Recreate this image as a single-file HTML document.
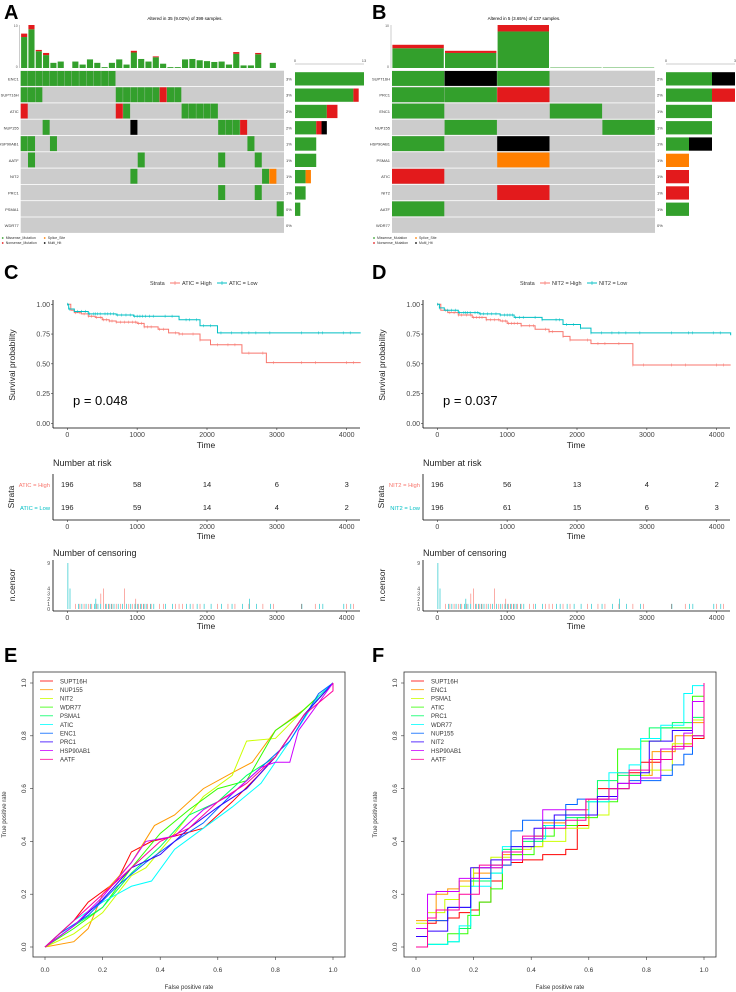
<!DOCTYPE html>
<html><head><meta charset="utf-8">
<style>
html,body{margin:0;padding:0;background:#fff;}
svg{display:block;font-family:"Liberation Sans",sans-serif;}
</style></head>
<body>
<svg id="fig" width="736" height="992" viewBox="0 0 736 992" xmlns="http://www.w3.org/2000/svg">
<text x="4" y="19" font-size="20" font-weight="bold">A</text>
<text x="372" y="19" font-size="20" font-weight="bold">B</text>
<text x="4" y="279" font-size="20" font-weight="bold">C</text>
<text x="372" y="279" font-size="20" font-weight="bold">D</text>
<text x="4" y="662" font-size="20" font-weight="bold">E</text>
<text x="372" y="662" font-size="20" font-weight="bold">F</text>
<text x="185" y="20" font-size="4.5" text-anchor="middle">Altered in 35 (9.02%) of 399 samples.</text>
<text x="524" y="20" font-size="4.5" text-anchor="middle">Altered in 5 (3.65%) of 137 samples.</text>
<g id="root"></g>
</svg>
<script>
// ---------- Oncoplot data ----------
const genesA = ["ENC1","SUPT16H","ATIC","NUP155","HSP90AB1","AATF","NIT2","PRC1","PSMA1","WDR77"];
const pctA = ["3%","3%","2%","2%","1%","1%","1%","1%","0%","0%"];
const cellsA = [
 [[0,12,"g"]],
 [[0,2,"g"],[13,18,"g"],[19,19,"r"],[20,21,"g"]],
 [[0,0,"r"],[13,13,"r"],[14,14,"g"],[22,26,"g"]],
 [[3,3,"g"],[15,15,"b"],[27,29,"g"],[30,30,"r"]],
 [[0,1,"g"],[4,4,"g"],[31,31,"g"]],
 [[1,1,"g"],[16,16,"g"],[27,27,"g"],[32,32,"g"]],
 [[15,15,"g"],[33,33,"g"],[34,34,"o"]],
 [[27,27,"g"],[32,32,"g"]],
 [[35,35,"g"]],
 []
];
const tmbGreenA = [7.2,9,3.9,3,1.2,1.5,0,1.5,0.8,2,1.2,0.2,1.2,2,0.8,3.6,2.1,1.5,2.5,1,0.2,0.2,2,2.1,1.8,1.6,1.4,1.5,0.8,3.3,0.6,0.6,3.2,0,1.2,0];
const tmbRedA   = [0.8,1,0.3,0.5,0,0,0,0,0,0,0,0,0,0,0,0.4,0,0,0.2,0,0,0,0,0,0,0,0,0,0,0.4,0,0,0.3,0,0,0];
const countsA = [[13,0,0,0],[11,1,0,0],[6,2,0,0],[4,1,1,0],[4,0,0,0],[4,0,0,0],[2,0,0,1],[2,0,0,0],[1,0,0,0],[0,0,0,0]];

const genesB = ["SUPT16H","PRC1","ENC1","NUP155","HSP90AB1","PSMA1","ATIC","NIT2","AATF","WDR77"];
const pctB = ["2%","2%","1%","1%","1%","1%","1%","1%","1%","0%"];
const cellsB = [
 [[0,0,"g"],[1,1,"b"],[2,2,"g"]],
 [[0,1,"g"],[2,2,"r"]],
 [[0,0,"g"],[3,3,"g"]],
 [[1,1,"g"],[4,4,"g"]],
 [[0,0,"g"],[2,2,"b"]],
 [[2,2,"o"]],
 [[0,0,"r"]],
 [[2,2,"r"]],
 [[0,0,"g"]],
 []
];
const tmbGreenB = [4.6,3.5,8.5,0.1,0.1];
const tmbRedB   = [0.8,0.5,1.5,0,0];
const countsB = [[2,0,1,0],[2,1,0,0],[2,0,0,0],[2,0,0,0],[1,0,1,0],[0,0,0,1],[0,1,0,0],[0,1,0,0],[1,0,0,0],[0,0,0,0]];

// ---------- KM data ----------
const timeTicks = [0,1000,2000,3000,4000];
const survTicks = [0,0.25,0.5,0.75,1];
const kmC_highT = [0,50,100,200,300,400,500,600,700,1000,1100,1300,1450,1600,1900,2050,2500,2850,4200];
const kmC_highS = [1,0.95,0.93,0.92,0.9,0.89,0.87,0.86,0.85,0.84,0.81,0.79,0.76,0.75,0.70,0.66,0.59,0.51,0.51];
const kmC_lowT = [0,20,100,300,700,950,1600,1900,2150,4200];
const kmC_lowS = [1,0.96,0.94,0.92,0.91,0.90,0.87,0.82,0.76,0.76];
const kmD_highT = [0,50,150,300,500,700,900,1000,1200,1400,1600,1800,1900,2200,2800,4200];
const kmD_highS = [1,0.95,0.93,0.91,0.89,0.87,0.86,0.84,0.82,0.79,0.77,0.73,0.70,0.67,0.49,0.49];
const kmD_lowT = [0,30,100,300,600,900,1100,1500,1800,2050,2200,4200];
const kmD_lowS = [1,0.97,0.95,0.93,0.92,0.91,0.89,0.87,0.83,0.80,0.76,0.74];
const riskC_high = [196,58,14,6,3];
const riskC_low = [196,59,14,4,2];
const riskD_high = [196,56,13,4,2];
const riskD_low = [196,61,15,6,3];
const censHighT = [120,180,240,300,350,420,480,520,560,600,640,700,760,820,880,930,980,1020,1060,1100,1150,1200,1320,1380,1550,1600,1650,1800,1900,2150,2300,2400,2600,2800,2950,3350,3550,4000,4100];
const censHighN = [1,1,1,1,1,1,3,4,1,1,1,1,1,4,1,1,2,1,1,1,1,1,1,1,1,1,1,1,1,1,1,1,1,1,1,1,1,1,1];
const censLowT = [0,30,150,200,260,320,380,400,430,470,540,580,620,660,720,780,840,900,960,1000,1040,1080,1120,1180,1230,1400,1500,1700,1750,1850,1950,2050,2200,2350,2500,2600,2700,2900,3350,3600,3650,3950,4050];
const censLowN = [9,4,1,1,1,1,1,2,1,1,1,1,1,1,1,1,1,1,1,1,1,1,1,1,1,1,1,1,1,1,1,1,1,1,1,2,1,1,1,1,1,1,1];

// ---------- ROC data ----------
const rocColors = ["#FF0000","#FF9900","#CCFF00","#33FF00","#00FF66","#00FFFF","#0066FF","#3300FF","#CC00FF","#FF0099"];
const rocNamesE = ["SUPT16H","NUP155","NIT2","WDR77","PSMA1","ATIC","ENC1","PRC1","HSP90AB1","AATF"];
const rocE_fpr = [
 [0,.1,.15,.25,.3,.37,.45,.55,.65,.75,.8,.9,1],
 [0,.1,.15,.2,.3,.38,.45,.55,.65,.72,.8,.9,1],
 [0,.1,.2,.3,.35,.45,.55,.65,.7,.8,.9,1],
 [0,.1,.2,.3,.4,.5,.6,.7,.8,.88,1],
 [0,.1,.2,.3,.4,.5,.6,.7,.8,.9,1],
 [0,.1,.2,.3,.37,.45,.55,.65,.75,.85,.95,1],
 [0,.05,.15,.25,.35,.45,.55,.65,.75,.85,.95,1],
 [0,.1,.2,.3,.4,.5,.6,.7,.8,.9,1],
 [0,.1,.2,.3,.35,.45,.55,.65,.75,.8,.85,.88,1],
 [0,.1,.2,.3,.4,.5,.6,.7,.8,.9,1,1]];
const rocE_tpr = [
 [0,.1,.17,.25,.36,.40,.42,.45,.55,.66,.72,.88,1],
 [0,.02,.07,.2,.32,.46,.5,.6,.66,.7,.82,.9,1],
 [0,.05,.13,.27,.3,.43,.57,.65,.78,.79,.9,1],
 [0,.07,.15,.3,.43,.52,.6,.63,.82,.88,1],
 [0,.08,.15,.28,.38,.5,.55,.65,.72,.88,1],
 [0,.1,.17,.23,.25,.37,.45,.53,.62,.78,.95,1],
 [0,.05,.12,.23,.32,.4,.47,.58,.68,.78,.96,1],
 [0,.08,.18,.3,.35,.45,.53,.6,.72,.88,1],
 [0,.08,.19,.32,.4,.42,.52,.58,.68,.7,.7,.82,1],
 [0,.1,.2,.3,.4,.45,.55,.62,.72,.88,.97,1]];
const rocNamesF = ["SUPT16H","ENC1","PSMA1","ATIC","PRC1","WDR77","NUP155","NIT2","HSP90AB1","AATF"];
const rocF_fpr = [
 [0,.04,.07,.11,.15,.19,.22,.26,.30,.33,.37,.44,.52,.56,.6,.63,.7,.78,.85,.93,.96,1],
 [0,.07,.11,.15,.2,.26,.3,.37,.44,.52,.6,.67,.74,.82,.9,.96,1],
 [0,.04,.1,.15,.2,.26,.33,.4,.44,.52,.6,.67,.74,.81,.89,.96,1],
 [0,.04,.11,.18,.22,.26,.3,.33,.41,.48,.56,.63,.7,.78,.85,.96,1],
 [0,.04,.11,.15,.19,.26,.3,.37,.44,.52,.59,.63,.7,.78,.81,.89,.96,1],
 [0,.04,.11,.15,.19,.26,.3,.37,.45,.52,.6,.67,.74,.78,.85,.93,.96,1],
 [0,.04,.11,.19,.26,.33,.37,.44,.52,.56,.6,.67,.74,.85,.89,.93,.96,1],
 [0,.04,.08,.11,.19,.26,.33,.41,.48,.56,.63,.7,.78,.81,.89,.96,1],
 [0,.04,.07,.15,.22,.3,.37,.44,.52,.59,.63,.7,.78,.85,.93,.96,1],
 [0,.04,.07,.15,.22,.3,.37,.44,.52,.59,.67,.74,.81,.89,.96,1]];
const rocF_tpr = [
 [.07,.09,.1,.11,.13,.14,.17,.25,.31,.32,.33,.35,.37,.46,.5,.6,.66,.7,.75,.77,.79,1],
 [.1,.2,.22,.25,.28,.3,.35,.38,.47,.52,.56,.6,.65,.74,.8,.85,1],
 [.09,.13,.18,.23,.3,.34,.37,.38,.4,.45,.5,.6,.65,.67,.77,.86,1],
 [0,.01,.05,.12,.17,.22,.33,.35,.42,.46,.49,.55,.75,.78,.83,.95,1],
 [0,.01,.02,.07,.25,.28,.37,.4,.46,.49,.55,.63,.65,.79,.83,.85,.87,1],
 [0,.01,.02,.08,.23,.28,.38,.41,.46,.5,.55,.66,.69,.79,.84,.96,.99,1],
 [.07,.1,.15,.26,.31,.44,.48,.48,.54,.56,.56,.6,.63,.65,.69,.73,.8,1],
 [.04,.06,.06,.15,.3,.33,.38,.45,.5,.5,.57,.62,.66,.78,.82,.93,1],
 [.07,.2,.21,.26,.3,.33,.41,.52,.52,.56,.56,.62,.64,.75,.81,.93,1],
 [0,.11,.14,.2,.31,.36,.42,.45,.48,.56,.6,.67,.71,.76,.8,1]];

// ---------- helpers ----------
const NS = "http://www.w3.org/2000/svg";
const root = document.getElementById("root");
function mk(tag, attrs, parent){
  const e = document.createElementNS(NS, tag);
  for (const k in attrs) e.setAttribute(k, attrs[k]);
  (parent || root).appendChild(e);
  return e;
}
function txt(x,y,s,size,opts,parent){
  const t = mk("text", Object.assign({x:x,y:y,"font-size":size}, opts||{}), parent);
  t.textContent = s;
  return t;
}
const colMap = {g:"#33A02C", r:"#E31A1C", b:"#000000", o:"#FF7F00"};

function oncoplot(gx0, gx1, nCols, genes, pct, cells, tG, tR, tMax, counts, cMax, barX0, barW, prefix){
  const gy0 = 70.7, rowH = 16.3;
  const cw = (gx1 - gx0) / nCols;
  const g = mk("g", {});
  
  
  for (let r=0;r<genes.length;r++){
    const bg = mk("rect",{x:gx0, y:gy0+r*rowH, width:gx1-gx0, height:rowH-0.8, fill:"#CCCCCC"}, g);
    
    
    cells[r].forEach(rg=>{
      for (let c=rg[0]; c<=rg[1]; c++){
        const rc = mk("rect",{x:gx0+c*cw, y:gy0+r*rowH+0.3, width:cw-0.3, height:rowH-1.4, fill:colMap[rg[2]]}, g);
        
        
      }
    });
    const gl = txt(gx0-2, gy0+r*rowH+rowH/2+1.5, genes[r], 4, {"text-anchor":"end", fill:"#333"}, g);
    
    
    const pl = txt(gx1+2, gy0+r*rowH+rowH/2+1.5, pct[r], 4, {fill:"#333"}, g);
    
    
    let x = barX0;
    const order = ["g","r","b","o"];
    for (let k=0;k<4;k++){
      const w = counts[r][k] / cMax * barW;
      if (w>0){
        const rb = mk("rect",{x:x, y:gy0+r*rowH+1.5, width:w, height:rowH-3, fill:colMap[order[k]]}, g);
        
        
        x += w;
      }
    }
  }
  mk("line",{x1:barX0,y1:64,x2:barX0+barW,y2:64,stroke:"#999","stroke-width":0.5},g);
  txt(barX0, 62, "0", 4, {"text-anchor":"middle",fill:"#555"}, g);
  txt(barX0+barW, 62, String(cMax), 4, {"text-anchor":"middle",fill:"#555"}, g);
  const by0 = 68, by1 = 25;
  mk("line",{x1:gx0-1,y1:by1,x2:gx0-1,y2:by0,stroke:"#999","stroke-width":0.5},g);
  txt(gx0-3, by1+2, String(tMax), 3.5, {"text-anchor":"end",fill:"#555"}, g);
  txt(gx0-3, by0, "0", 3.5, {"text-anchor":"end",fill:"#555"}, g);
  for (let c=0;c<nCols;c++){
    const hg = tG[c]/tMax*(by0-by1), hr = tR[c]/tMax*(by0-by1);
    const b1 = mk("rect",{x:gx0+c*cw+0.4, y:by0-hg, width:cw-1.2, height:hg, fill:colMap.g}, g);
    
    
    if (hr>0){
      const b2 = mk("rect",{x:gx0+c*cw+0.4, y:by0-hg-hr, width:cw-1.2, height:hr, fill:colMap.r}, g);
      
      
    }
  }
  const lg = mk("g",{},g);
  
  
  const lx = gx0-18;
  const items = [["Missense_Mutation",colMap.g,lx,239],["Nonsense_Mutation",colMap.r,lx,244],["Splice_Site",colMap.o,lx+42,239],["Multi_Hit",colMap.b,lx+42,244]];
  items.forEach(it=>{
    mk("circle",{cx:it[2],cy:it[3]-1,r:0.9,fill:it[1]},lg);
    txt(it[2]+3,it[3],it[0],3.5,{fill:"#333"},lg);
  });
}
oncoplot(20.7, 284, 36, genesA, pctA, cellsA, tmbGreenA, tmbRedA, 10, countsA, 13, 295, 69, "panel-a");
oncoplot(392, 655, 5, genesB, pctB, cellsB, tmbGreenB, tmbRedB, 10, countsB, 3, 666, 69, "panel-b");

// ---------- KM panels ----------
const HI = "#F8766D", LO = "#00BFC4";
function kmPanel(ox, gene, hT, hS, lT, lS, rH, rL, pval, prefix){
  const g = mk("g",{});
  
  
  const X = t => ox + 67.3 + t/4000*(346.7-67.3);
  const Y = s => 423.3 - s*(423.3-304.3);
  const left = ox+53, right = ox+360;
  const lg = mk("g",{},g);
  
  
  txt(ox+150,285,"Strata",5.5,{fill:"#333"},lg);
  mk("line",{x1:ox+170,y1:283,x2:ox+180,y2:283,stroke:HI,"stroke-width":1},lg);
  mk("line",{x1:ox+175,y1:281,x2:ox+175,y2:285,stroke:HI,"stroke-width":0.6},lg);
  txt(ox+182,285,gene+" = High",5.5,{fill:"#333"},lg);
  mk("line",{x1:ox+217,y1:283,x2:ox+227,y2:283,stroke:LO,"stroke-width":1},lg);
  mk("line",{x1:ox+222,y1:281,x2:ox+222,y2:285,stroke:LO,"stroke-width":0.6},lg);
  txt(ox+229,285,gene+" = Low",5.5,{fill:"#333"},lg);
  mk("line",{x1:left,y1:300,x2:left,y2:428,stroke:"#000","stroke-width":0.8},g);
  mk("line",{x1:left,y1:428,x2:right,y2:428,stroke:"#000","stroke-width":0.8},g);
  survTicks.forEach(s=>{
    mk("line",{x1:left-2,y1:Y(s),x2:left,y2:Y(s),stroke:"#333","stroke-width":0.6},g);
    txt(left-3,Y(s)+2.5,s.toFixed(2),7,{"text-anchor":"end",fill:"#444"},g);
  });
  timeTicks.forEach(t=>{
    mk("line",{x1:X(t),y1:428,x2:X(t),y2:430,stroke:"#333","stroke-width":0.6},g);
    txt(X(t),437,String(t),7,{"text-anchor":"middle",fill:"#444"},g);
  });
  txt(ox+206,448,"Time",8.5,{"text-anchor":"middle",fill:"#222"},g);
  const yl = txt(0,0,"Survival probability",8.5,{"text-anchor":"middle",fill:"#222",transform:`translate(${ox+15},365) rotate(-90)`},g);
  
  
  function curve(T,S,col,cT,name){
    let d = `M${X(T[0])},${Y(S[0])}`;
    for (let i=1;i<T.length;i++){ d += `H${X(T[i])}V${Y(S[i])}`; }
    const p = mk("path",{d:d,fill:"none",stroke:col,"stroke-width":1},g);
    
    
    cT.forEach(t=>{
      let s = S[0];
      for (let i=0;i<T.length;i++) if (T[i]<=t) s = S[i];
      mk("line",{x1:X(t),y1:Y(s)-1.5,x2:X(t),y2:Y(s)+1.5,stroke:col,"stroke-width":0.5},g);
    });
  }
  curve(hT,hS,HI,censHighT,"km-curve-high");
  curve(lT,lS,LO,censLowT,"km-curve-low");
  const pv = txt(ox+73,405,"p = "+pval,13,{fill:"#000"},g);
  
  
  txt(left,466,"Number at risk",9,{fill:"#222"},g);
  mk("line",{x1:left,y1:474,x2:left,y2:520,stroke:"#000","stroke-width":0.8},g);
  mk("line",{x1:left,y1:520,x2:right,y2:520,stroke:"#000","stroke-width":0.8},g);
  txt(left-3,487,gene+" = High",5.8,{"text-anchor":"end",fill:HI},g);
  txt(left-3,510,gene+" = Low",5.8,{"text-anchor":"end",fill:LO},g);
  txt(0,0,"Strata",8.5,{"text-anchor":"middle",fill:"#222",transform:`translate(${ox+14},497) rotate(-90)`},g);
  timeTicks.forEach((t,i)=>{
    const a = txt(X(t),487,String(rH[i]),7.5,{"text-anchor":"middle",fill:"#222"},g);
    
    
    const b = txt(X(t),510,String(rL[i]),7.5,{"text-anchor":"middle",fill:"#222"},g);
    
    
    mk("line",{x1:X(t),y1:520,x2:X(t),y2:522,stroke:"#333","stroke-width":0.6},g);
    txt(X(t),529,String(t),7,{"text-anchor":"middle",fill:"#444"},g);
  });
  txt(ox+206,539,"Time",8.5,{"text-anchor":"middle",fill:"#222"},g);
  txt(left,556,"Number of censoring",9,{fill:"#222"},g);
  const CY = n => 609 - n/9*(609-563);
  mk("line",{x1:left,y1:560,x2:left,y2:611,stroke:"#000","stroke-width":0.8},g);
  mk("line",{x1:left,y1:611,x2:right,y2:611,stroke:"#000","stroke-width":0.8},g);
  [0,1,2,3,4,9].forEach(n=>{ txt(left-3,CY(n)+2,String(n),5,{"text-anchor":"end",fill:"#444"},g); });
  txt(0,0,"n.censor",8.5,{"text-anchor":"middle",fill:"#222",transform:`translate(${ox+15},585) rotate(-90)`},g);
  censHighT.forEach((t,i)=>{
    const l = mk("line",{x1:X(t),y1:609,x2:X(t),y2:CY(censHighN[i]),stroke:HI,"stroke-width":0.6},g);
    
    
  });
  censLowT.forEach((t,i)=>{
    const l = mk("line",{x1:X(t)+0.6,y1:609,x2:X(t)+0.6,y2:CY(censLowN[i]),stroke:LO,"stroke-width":0.6},g);
    
    
  });
  timeTicks.forEach(t=>{
    mk("line",{x1:X(t),y1:611,x2:X(t),y2:613,stroke:"#333","stroke-width":0.6},g);
    txt(X(t),620,String(t),7,{"text-anchor":"middle",fill:"#444"},g);
  });
  txt(ox+206,629,"Time",8.5,{"text-anchor":"middle",fill:"#222"},g);
}
kmPanel(0,"ATIC",kmC_highT,kmC_highS,kmC_lowT,kmC_lowS,riskC_high,riskC_low,"0.048","panel-c");
kmPanel(370,"NIT2",kmD_highT,kmD_highS,kmD_lowT,kmD_lowS,riskD_high,riskD_low,"0.037","panel-d");

// ---------- ROC panels ----------
function rocPanel(bx0,bx1,x0,x1,names,FPR,TPR,prefix,stepped){
  const g = mk("g",{});
  
  
  const X = v => x0 + v*(x1-x0);
  const Y = v => 947 - v*(947-683);
  mk("rect",{x:bx0,y:672,width:bx1-bx0,height:285,fill:"none",stroke:"#333","stroke-width":0.8},g);
  [0,0.2,0.4,0.6,0.8,1].forEach(v=>{
    mk("line",{x1:X(v),y1:957,x2:X(v),y2:960,stroke:"#333","stroke-width":0.6},g);
    txt(X(v),972,v.toFixed(1),6.5,{"text-anchor":"middle",fill:"#333"},g);
    mk("line",{x1:bx0-3,y1:Y(v),x2:bx0,y2:Y(v),stroke:"#333","stroke-width":0.6},g);
    txt(0,0,v.toFixed(1),6.5,{"text-anchor":"middle",fill:"#333",transform:`translate(${bx0-7},${Y(v)}) rotate(-90)`},g);
  });
  txt((bx0+bx1)/2,989,"False positive rate",6,{"text-anchor":"middle",fill:"#333"},g);
  txt(0,0,"True positive rate",6,{"text-anchor":"middle",fill:"#333",transform:`translate(${bx0-27},${(672+957)/2}) rotate(-90)`},g);
  names.forEach((n,k)=>{
    let d = `M${X(FPR[k][0])},${Y(TPR[k][0])}`;
    for (let i=1;i<FPR[k].length;i++){
      if (stepped) d += `H${X(FPR[k][i])}V${Y(TPR[k][i])}`;
      else d += `L${X(FPR[k][i])},${Y(TPR[k][i])}`;
    }
    const p = mk("path",{d:d,fill:"none",stroke:rocColors[k],"stroke-width":1},g);
    
    
    const ly = 681 + k*8.7;
    mk("line",{x1:bx0+7,y1:ly,x2:bx0+20,y2:ly,stroke:rocColors[k],"stroke-width":0.8},g);
    const lt = txt(bx0+27,ly+2.3,n,6,{fill:"#333"},g);
    
    
  });
}
rocPanel(33,345,45,333,rocNamesE,rocE_fpr,rocE_tpr,"panel-e",false);
rocPanel(404,716,416,704,rocNamesF,rocF_fpr,rocF_tpr,"panel-f",true);
</script>
</body></html>
